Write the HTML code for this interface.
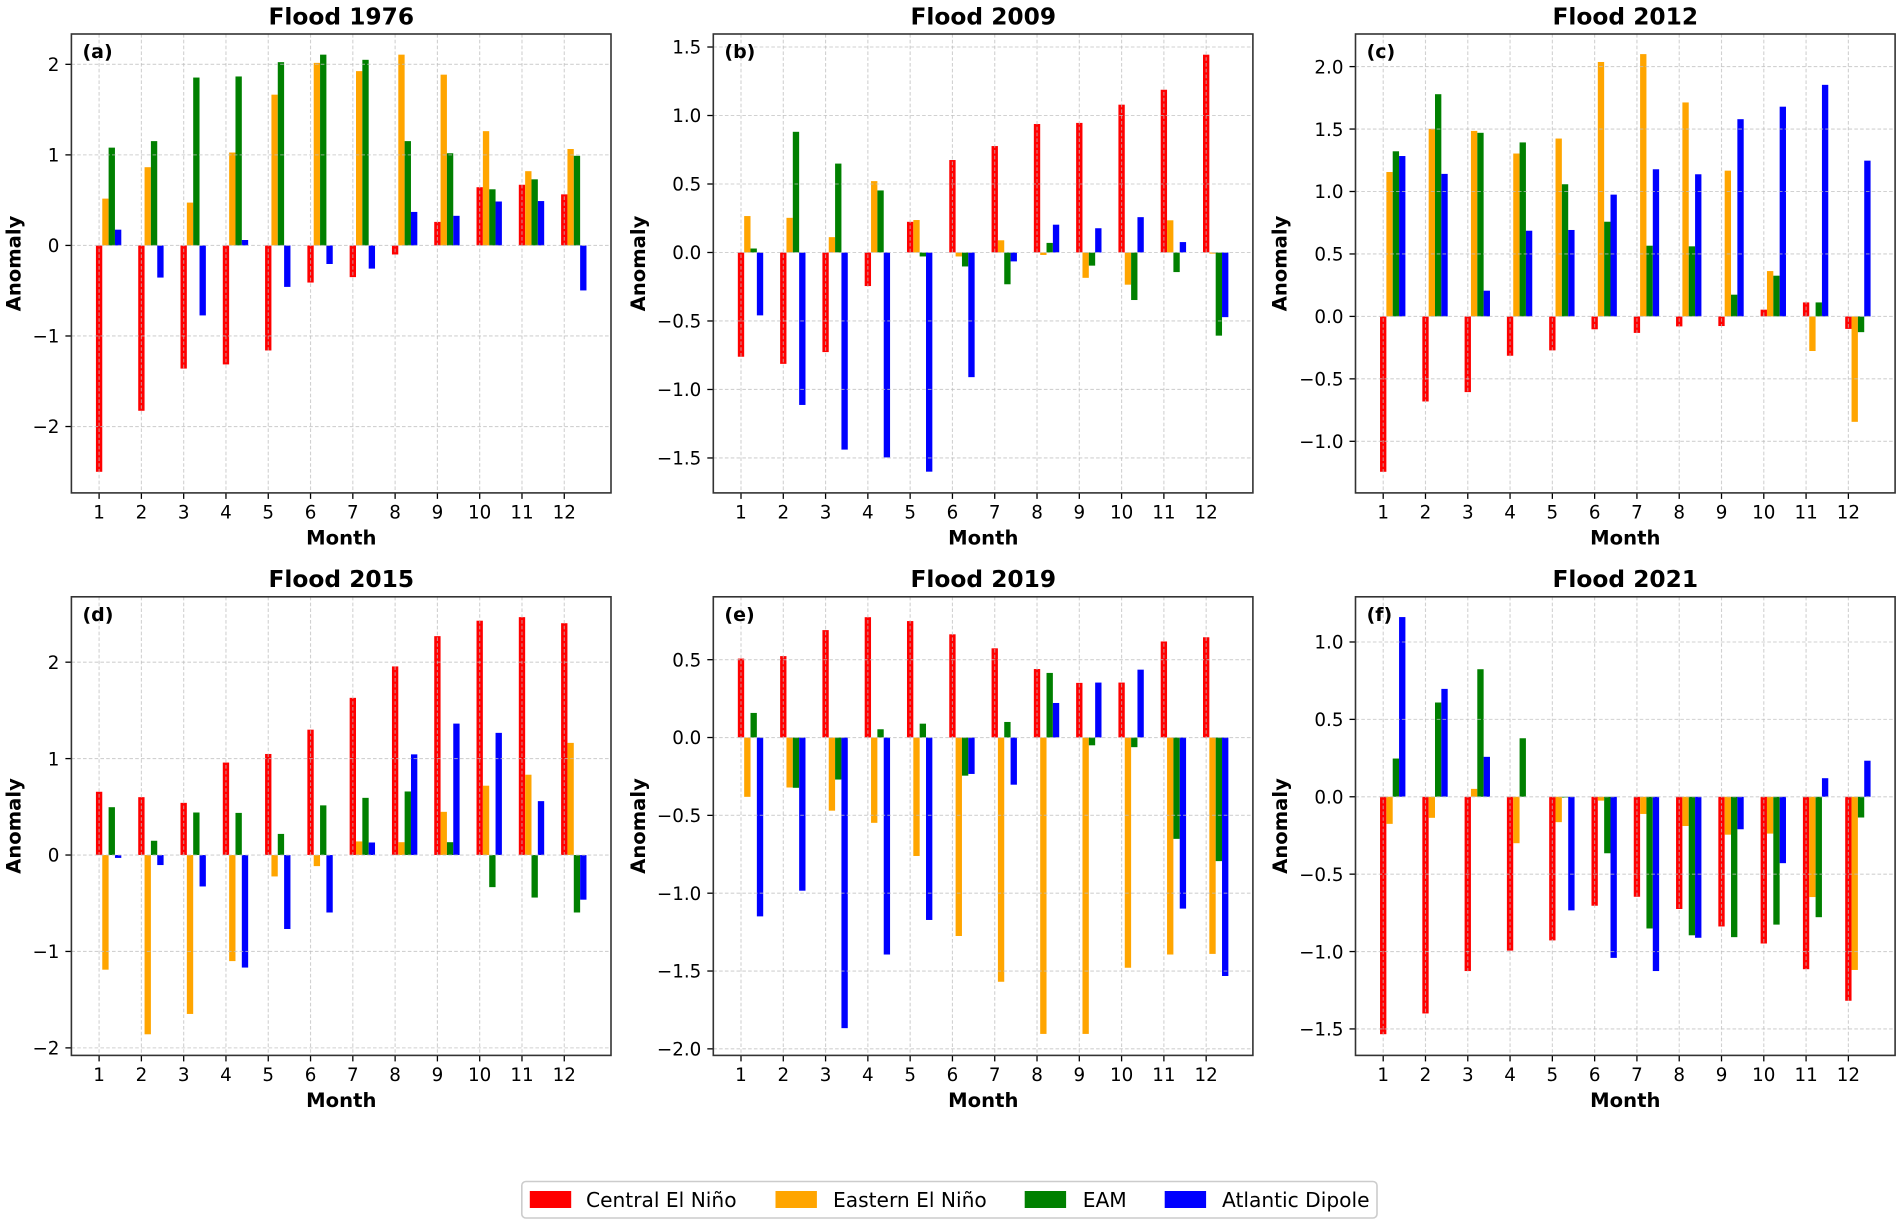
<!DOCTYPE html>
<html lang="en">
<head>
<meta charset="utf-8">
<title>Flood anomaly charts</title>
<style>
html,body{margin:0;padding:0;background:#fff;}
svg{display:block;font-family:"DejaVu Sans","Liberation Sans",sans-serif;}
.title{font-size:23.3px;font-weight:bold;text-anchor:middle;fill:#000;}
.axis-title{font-size:19.6px;font-weight:bold;text-anchor:middle;fill:#000;}
.panel-label{font-size:19px;font-weight:bold;fill:#000;}
.frame{fill:none;stroke:#333;stroke-width:1.6;}
.legend-text{font-size:20.2px;fill:#000;}
</style>
</head>
<body>
<svg id="figure" xmlns="http://www.w3.org/2000/svg" width="1902" height="1225" viewBox="0 0 1902 1225">
  <rect width="1902" height="1225" fill="#fff"/>

  <g id="panel-a">
    <text class="title" x="341.3" y="24.5">Flood 1976</text>
    <g class="marks"></g>
    <rect class="frame" x="71.4" y="34" width="539.6" height="458.9"/>
    <text class="panel-label" x="82.5" y="58">(a)</text>
    <text class="axis-title" x="341.3" y="544.6">Month</text>
    <text class="axis-title" transform="translate(20.4 263.5) rotate(-90)">Anomaly</text>
  </g>

  <g id="panel-b">
    <text class="title" x="983.3" y="24.5">Flood 2009</text>
    <g class="marks"></g>
    <rect class="frame" x="713.3" y="34" width="539.6" height="458.9"/>
    <text class="panel-label" x="724.4" y="58">(b)</text>
    <text class="axis-title" x="983.3" y="544.6">Month</text>
    <text class="axis-title" transform="translate(645.1 263.5) rotate(-90)">Anomaly</text>
  </g>

  <g id="panel-c">
    <text class="title" x="1625.3" y="24.5">Flood 2012</text>
    <g class="marks"></g>
    <rect class="frame" x="1355.5" y="34" width="539.6" height="458.9"/>
    <text class="panel-label" x="1366.6" y="58">(c)</text>
    <text class="axis-title" x="1625.3" y="544.6">Month</text>
    <text class="axis-title" transform="translate(1286.5 263.5) rotate(-90)">Anomaly</text>
  </g>

  <g id="panel-d">
    <text class="title" x="341.3" y="587.1">Flood 2015</text>
    <g class="marks"></g>
    <rect class="frame" x="71.4" y="596.8" width="539.6" height="458.6"/>
    <text class="panel-label" x="82.5" y="621">(d)</text>
    <text class="axis-title" x="341.3" y="1107.2">Month</text>
    <text class="axis-title" transform="translate(20.4 826) rotate(-90)">Anomaly</text>
  </g>

  <g id="panel-e">
    <text class="title" x="983.3" y="587.1">Flood 2019</text>
    <g class="marks"></g>
    <rect class="frame" x="713.3" y="596.8" width="539.6" height="458.6"/>
    <text class="panel-label" x="724.4" y="621">(e)</text>
    <text class="axis-title" x="983.3" y="1107.2">Month</text>
    <text class="axis-title" transform="translate(645.1 826) rotate(-90)">Anomaly</text>
  </g>

  <g id="panel-f">
    <text class="title" x="1625.3" y="587.1">Flood 2021</text>
    <g class="marks"></g>
    <rect class="frame" x="1355.5" y="596.8" width="539.6" height="458.6"/>
    <text class="panel-label" x="1366.6" y="621">(f)</text>
    <text class="axis-title" x="1625.3" y="1107.2">Month</text>
    <text class="axis-title" transform="translate(1287 826) rotate(-90)">Anomaly</text>
  </g>

  <g>
    <rect x="521.8" y="1181.5" width="855.2" height="36.5" rx="4" fill="#fff" stroke="#ccc" stroke-width="1.6"/>
    <g>
      <rect x="529.8" y="1191" width="41.4" height="17" fill="#ff0000"/>
      <text class="legend-text" x="586" y="1207">Central El Niño</text>
    </g>
    <g>
      <rect x="775.5" y="1191" width="41.4" height="17" fill="#ffa500"/>
      <text class="legend-text" x="833" y="1207">Eastern El Niño</text>
    </g>
    <g>
      <rect x="1024.7" y="1191" width="41.4" height="17" fill="#008000"/>
      <text class="legend-text" x="1082.7" y="1207">EAM</text>
    </g>
    <g>
      <rect x="1164.7" y="1191" width="41.4" height="17" fill="#0000ff"/>
      <text class="legend-text" x="1222" y="1207">Atlantic Dipole</text>
    </g>
  </g>
</svg>

<script>
const months = [1, 2, 3, 4, 5, 6, 7, 8, 9, 10, 11, 12];
const seriesKeys = ['central-el-nino', 'eastern-el-nino', 'eam', 'atlantic-dipole'];
const seriesColors = ['#ff0000', '#ffa500', '#008000', '#0000ff'];
const barWidth = 0.15;
const monthDomain = [0.345, 13.105];

const aTicks = ['−2', '−1', '0', '1', '2'];
const aLimits = [-2.733, 2.335];
const aCentral = [-2.50, -1.826, -1.36, -1.314, -1.16, -0.41, -0.35, -0.10, 0.26, 0.643, 0.67, 0.564];
const aEastern = [0.517, 0.864, 0.473, 1.026, 1.665, 2.016, 1.925, 2.107, 1.886, 1.262, 0.82, 1.065];
const aEam = [1.08, 1.152, 1.854, 1.866, 2.024, 2.107, 2.05, 1.152, 1.018, 0.62, 0.73, 0.99];
const aDipole = [0.174, -0.355, -0.773, 0.06, -0.458, -0.205, -0.256, 0.37, 0.327, 0.485, 0.49, -0.497];

const bTicks = ['−1.5', '−1.0', '−0.5', '0.0', '0.5', '1.0', '1.5'];
const bLimits = [-1.755, 1.595];
const bCentral = [-0.761, -0.813, -0.727, -0.245, 0.224, 0.675, 0.777, 0.938, 0.946, 1.079, 1.188, 1.444];
const bEastern = [0.266, 0.253, 0.112, 0.521, 0.237, -0.029, 0.089, -0.018, -0.185, -0.235, 0.235, -0.008];
const bEam = [0.029, 0.881, 0.649, 0.453, -0.029, -0.102, -0.232, 0.07, -0.096, -0.347, -0.143, -0.607];
const bDipole = [-0.459, -1.113, -1.439, -1.496, -1.6, -0.91, -0.065, 0.203, 0.177, 0.258, 0.076, -0.472];

const cTicks = ['−1.0', '−0.5', '0.0', '0.5', '1.0', '1.5', '2.0'];
const cLimits = [-1.413, 2.261];
const cCentral = [-1.244, -0.681, -0.606, -0.315, -0.272, -0.103, -0.132, -0.08, -0.077, 0.054, 0.112, -0.10];
const cEastern = [1.156, 1.502, 1.485, 1.304, 1.424, 2.037, 2.10, 1.713, 1.167, 0.363, -0.277, -0.844];
const cEam = [1.322, 1.779, 1.47, 1.393, 1.058, 0.758, 0.566, 0.561, 0.174, 0.326, 0.112, -0.126];
const cDipole = [1.284, 1.141, 0.206, 0.686, 0.692, 0.975, 1.178, 1.138, 1.579, 1.679, 1.854, 1.247];

const dTicks = ['−2', '−1', '0', '1', '2'];
const dLimits = [-2.078, 2.678];
const dCentral = [0.656, 0.60, 0.541, 0.959, 1.048, 1.30, 1.63, 1.956, 2.27, 2.43, 2.467, 2.404];
const dEastern = [-1.189, -1.859, -1.648, -1.10, -0.222, -0.115, 0.141, 0.133, 0.448, 0.719, 0.833, 1.163];
const dEam = [0.496, 0.148, 0.441, 0.437, 0.219, 0.515, 0.593, 0.659, 0.133, -0.333, -0.441, -0.596];
const dDipole = [-0.03, -0.104, -0.326, -1.167, -0.767, -0.596, 0.13, 1.044, 1.363, 1.267, 0.559, -0.463];

const eTicks = ['−2.0', '−1.5', '−1.0', '−0.5', '0.0', '0.5'];
const eLimits = [-2.042, 0.904];
const eCentral = [0.507, 0.523, 0.69, 0.773, 0.748, 0.663, 0.573, 0.44, 0.351, 0.353, 0.617, 0.644];
const eEastern = [-0.381, -0.321, -0.47, -0.548, -0.761, -1.275, -1.569, -1.904, -1.904, -1.479, -1.394, -1.39];
const eEam = [0.158, -0.323, -0.27, 0.053, 0.089, -0.245, 0.10, 0.415, -0.05, -0.062, -0.651, -0.794];
const eDipole = [-1.149, -0.984, -1.867, -1.394, -1.172, -0.234, -0.303, 0.222, 0.353, 0.436, -1.099, -1.532];

const fTicks = ['−1.5', '−1.0', '−0.5', '0.0', '0.5', '1.0'];
const fLimits = [-1.671, 1.292];
const fCentral = [-1.534, -1.40, -1.126, -0.994, -0.928, -0.704, -0.646, -0.725, -0.838, -0.948, -1.114, -1.318];
const fEastern = [-0.175, -0.136, 0.051, -0.30, -0.164, -0.025, -0.111, -0.189, -0.245, -0.238, -0.648, -1.119];
const fEam = [0.247, 0.609, 0.824, 0.378, -0.005, -0.365, -0.851, -0.895, -0.907, -0.826, -0.778, -0.134];
const fDipole = [1.161, 0.697, 0.258, 0, -0.734, -1.041, -1.126, -0.911, -0.21, -0.429, 0.12, 0.233];

const SVG_NS = 'http://www.w3.org/2000/svg';

function makeEl(tag, parent, attrs) {
  const el = document.createElementNS(SVG_NS, tag);
  for (const k in attrs) el.setAttribute(k, attrs[k]);
  parent.appendChild(el);
  return el;
}

function drawPanel(id, tickLabels, limits, seriesList) {
  const panel = document.getElementById('panel-' + id);
  const marks = panel.querySelector('.marks');
  const frame = panel.querySelector('.frame');
  const left = parseFloat(frame.getAttribute('x'));
  const top = parseFloat(frame.getAttribute('y'));
  const w = parseFloat(frame.getAttribute('width'));
  const h = parseFloat(frame.getAttribute('height'));
  const right = left + w;
  const bottom = top + h;

  const xScale = function (v) {
    return left + (v - monthDomain[0]) / (monthDomain[1] - monthDomain[0]) * w;
  };
  const yScale = function (v) {
    return bottom - (v - limits[0]) / (limits[1] - limits[0]) * h;
  };

  seriesList.forEach(function (values, s) {
    values.forEach(function (value, i) {
      const center = months[i] + s * barWidth;
      const x0 = xScale(center - barWidth / 2);
      const x1 = xScale(center + barWidth / 2);
      const y0 = yScale(0);
      const y1 = yScale(value);
      const el = makeEl('rect', marks, {
        x: x0.toFixed(2),
        y: Math.min(y0, y1).toFixed(2),
        width: (x1 - x0).toFixed(2),
        height: Math.abs(y1 - y0).toFixed(2),
        fill: seriesColors[s]
      });
      
      
    });
  });

  months.forEach(function (m) {
    const x = xScale(m);
    const grid = makeEl('line', marks, {
      x1: x.toFixed(2), x2: x.toFixed(2), y1: top, y2: bottom,
      stroke: '#bdbdbd', 'stroke-opacity': 0.7, 'stroke-width': 1.1, 'stroke-dasharray': '3.6 2.2'
    });
    
    
    const tick = makeEl('line', marks, {
      x1: x.toFixed(2), x2: x.toFixed(2), y1: bottom, y2: bottom + 6,
      stroke: '#000', 'stroke-width': 1.3
    });
    
    
    const label = makeEl('text', marks, {
      x: x.toFixed(2), y: (bottom + 25.6).toFixed(2),
      'font-size': 18.3, 'text-anchor': 'middle', fill: '#000'
    });
    label.textContent = String(m);
    
    
  });

  tickLabels.forEach(function (text) {
    const value = parseFloat(text.replace('−', '-'));
    const y = yScale(value);
    const grid = makeEl('line', marks, {
      x1: left, x2: right, y1: y.toFixed(2), y2: y.toFixed(2),
      stroke: '#bdbdbd', 'stroke-opacity': 0.7, 'stroke-width': 1.1, 'stroke-dasharray': '3.6 2.2'
    });
    
    
    const tick = makeEl('line', marks, {
      x1: left - 6, x2: left, y1: y.toFixed(2), y2: y.toFixed(2),
      stroke: '#000', 'stroke-width': 1.3
    });
    
    
    const label = makeEl('text', marks, {
      x: left - 12, y: (y + 6.7).toFixed(2),
      'font-size': 18.3, 'text-anchor': 'end', fill: '#000'
    });
    label.textContent = text;
    
    
  });
}

drawPanel('a', aTicks, aLimits, [aCentral, aEastern, aEam, aDipole]);
drawPanel('b', bTicks, bLimits, [bCentral, bEastern, bEam, bDipole]);
drawPanel('c', cTicks, cLimits, [cCentral, cEastern, cEam, cDipole]);
drawPanel('d', dTicks, dLimits, [dCentral, dEastern, dEam, dDipole]);
drawPanel('e', eTicks, eLimits, [eCentral, eEastern, eEam, eDipole]);
drawPanel('f', fTicks, fLimits, [fCentral, fEastern, fEam, fDipole]);
</script>
</body>
</html>
